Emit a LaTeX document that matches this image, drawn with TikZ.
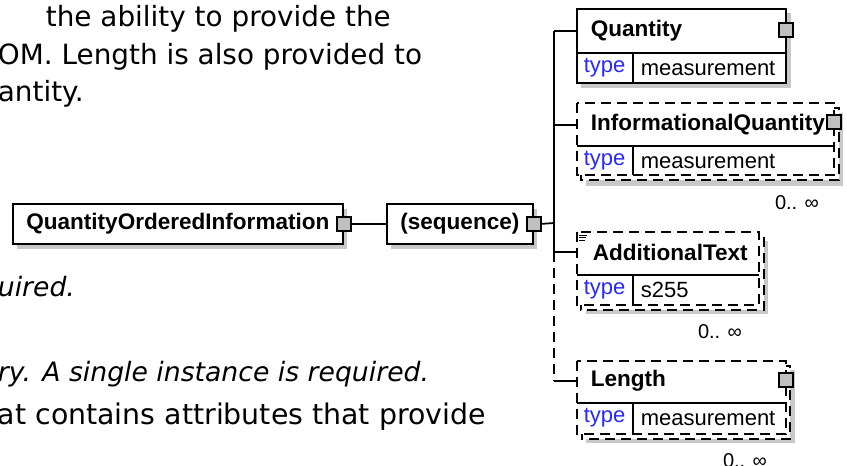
\documentclass[tikz,border=0pt]{standalone}
\usepackage{fontspec}
\setmainfont{DejaVu Sans}
\newfontfamily\xsdfont{Liberation Sans}
\usetikzlibrary{shadows}
\definecolor{portgray}{RGB}{192,192,192}
\definecolor{shadegray}{RGB}{200,200,200}
\definecolor{typeblue}{RGB}{40,40,255}
\tikzset{
  doc/.style={anchor=base west, inner sep=0pt, font=\fontsize{20.9}{25}\selectfont},
  docit/.style={anchor=base west, inner sep=0pt, font=\fontsize{20}{24}\selectfont\itshape},
  elem/.style={draw, fill=white, inner sep=0pt, anchor=north west,
    font=\xsdfont\bfseries\fontsize{16.9}{20}\selectfont,
    drop shadow={shadow xshift=3pt, shadow yshift=-3.5pt, fill=shadegray, opacity=1}},
  lbl/.style={anchor=west, inner sep=0pt, font=\xsdfont\bfseries\fontsize{16.9}{20}\selectfont},
  typ/.style={anchor=west, inner sep=0pt, font=\xsdfont\fontsize{16.5}{20}\selectfont},
  occ/.style={inner sep=0pt, font=\xsdfont\fontsize{15}{18}\selectfont},
  port/.style={draw, fill=portgray, minimum size=10.5pt, inner sep=0pt},
  opt/.style={dash pattern=on 7.5pt off 4.5pt},
}
\begin{document}
\begin{tikzpicture}[x=0.75pt, y=-0.75pt, line width=1.3pt]
  \useasboundingbox (0,0) rectangle (847,465);
  % text of the page round the diagram
  \node[doc] (t1) at (45,26) {the ability to provide the};
  \node[doc] (t2) at (-3,64) {OM. Length is also provided to};
  \node[doc] (t3) at (-3,101) {antity.};
  \node[docit] (t4) at (-3,296) {uired.};
  \node[docit] (t5) at (-3,381) {ry. A single instance is required.};
  \node[doc, font=\fontsize{21.3}{25}\selectfont] (t6) at (-3,424) {at contains attributes that provide};

  % root and sequence
  \node[elem, minimum width=247.5pt, minimum height=30pt] (qoi) at (12,203) {QuantityOrderedInformation};
  \node[port] (qoi-p) at (qoi.east) {};
  \node[elem, minimum width=109.5pt, minimum height=30pt] (seq) at (386,203) {(sequence)};
  \node[port] (seq-p) at (seq.east) {};
  \draw (qoi-p.east) -- (seq.west);
  \coordinate (sp-seq) at (554,223);
  \draw (seq-p.east) -- (sp-seq);

  % spine
  \coordinate (sp-qty) at (554,31);
  \coordinate (sp-iq) at (554,125);
  \coordinate (sp-at) at (554,252);
  \coordinate (sp-len) at (554,381);
  \draw (sp-qty) -- (sp-at);
  \draw[opt] (sp-at) -- (sp-len);

  % Quantity
  \fill[shadegray] (581,13) rectangle (791,88);
  \draw[fill=white] (577,9) rectangle (786,83);
  \draw (577,53) -- (786,53) (633,53) -- (633,83);
  \node[lbl] (qty) at (590,31) {Quantity};
  \node[typ, text=typeblue] (qty-t) at (583,68) {type};
  \node[typ] (qty-v) at (640,68) {measurement};
  \node[port] (qty-p) at (786,30) {};
  \coordinate (qty-in) at (577,31);
  \draw (sp-qty) -- (qty-in);

  % InformationalQuantity
  \fill[shadegray] (586,113) rectangle (843,186);
  \draw[opt, fill=white] (581,108) rectangle (839,180);
  \draw[opt, fill=white] (577,103) rectangle (834,175);
  \draw (577,146) -- (834,146) (633,146) -- (633,175);
  \node[lbl] (iq) at (590,125) {InformationalQuantity};
  \node[typ, text=typeblue] (iq-t) at (583,161) {type};
  \node[typ] (iq-v) at (640,161) {measurement};
  \node[port] (iq-p) at (834,122) {};
  \node[occ] (iq-occ) at (797,203) {0.. ∞};
  \coordinate (iq-in) at (577,125);
  \draw (sp-iq) -- (iq-in);

  % AdditionalText
  \fill[shadegray] (586,241) rectangle (768,314);
  \draw[opt, fill=white] (581,236) rectangle (764,310);
  \draw[opt, fill=white] (577,232) rectangle (759,305);
  \draw (577,275) -- (759,275) (633,275) -- (633,305);
  \draw[line width=0.6pt] (579,235) -- (587,235) (579,237.5) -- (586,237.5) (579,240) -- (585,240);
  \node[lbl] (at) at (592,252) {AdditionalText};
  \node[typ, text=typeblue] (at-t) at (583,290) {type};
  \node[typ] (at-v) at (640,290) {s255};
  \node[occ] (at-occ) at (720,332) {0.. ∞};
  \coordinate (at-in) at (577,252);
  \draw (sp-at) -- (at-in);

  % Length
  \fill[shadegray] (586,370) rectangle (795,443);
  \draw[opt, fill=white] (582,366) rectangle (790,439);
  \draw[opt, fill=white] (577,361) rectangle (786,434);
  \draw (577,403) -- (786,403) (633,403) -- (633,434);
  \node[lbl] (len) at (590,381) {Length};
  \node[typ, text=typeblue] (len-t) at (583,418) {type};
  \node[typ] (len-v) at (640,418) {measurement};
  \node[port] (len-p) at (786,380) {};
  \node[occ] (len-occ) at (745,461) {0.. ∞};
  \coordinate (len-in) at (577,381);
  \draw (sp-len) -- (len-in);
\end{tikzpicture}
\end{document}
